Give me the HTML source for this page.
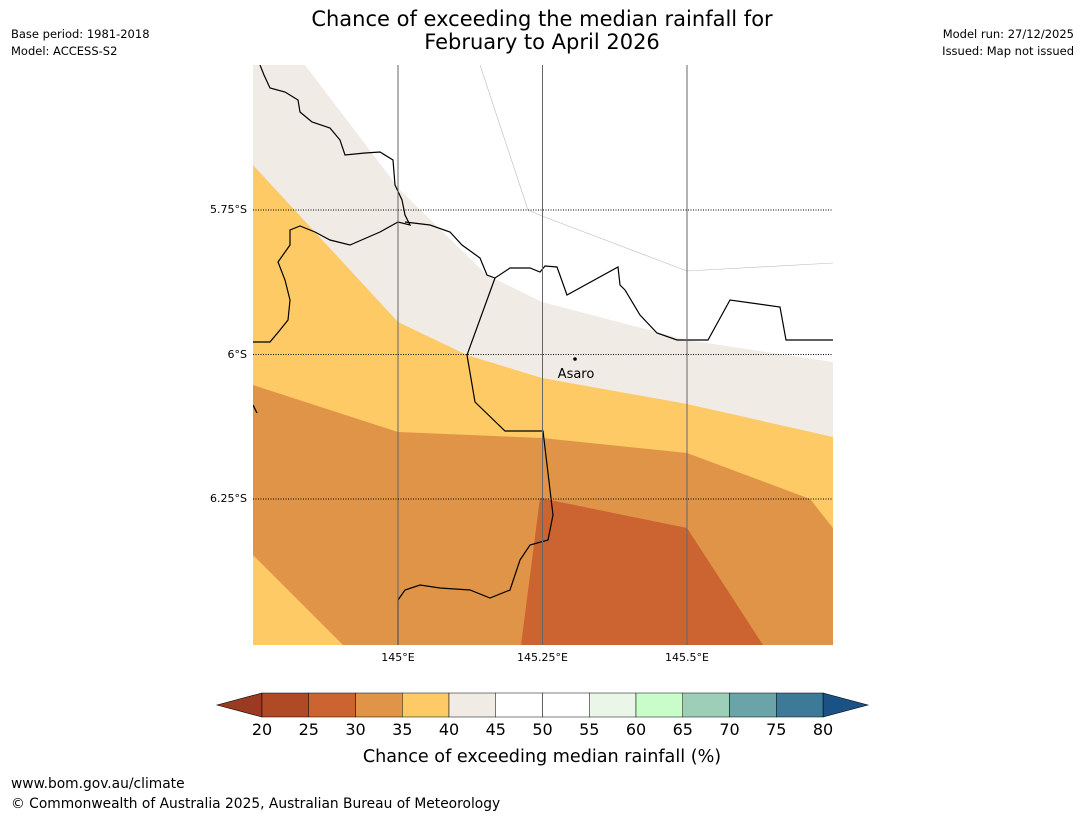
<!DOCTYPE html>
<html><head><meta charset="utf-8"><style>
body{margin:0;background:#fff;font-family:"Liberation Sans","DejaVu Sans",sans-serif;}
svg text{font-family:"DejaVu Sans","Liberation Sans",sans-serif;}
</style></head><body>
<svg width="1085" height="816" viewBox="0 0 1085 816">
<rect width="1085" height="816" fill="#fff"/>
<text x="542" y="26" font-size="21" text-anchor="middle">Chance of exceeding the median rainfall for</text>
<text x="542" y="49" font-size="21" text-anchor="middle">February to April 2026</text>
<text x="11" y="38" font-size="11.5">Base period: 1981-2018</text>
<text x="11" y="55" font-size="11.5">Model: ACCESS-S2</text>
<text x="1074" y="38" font-size="11.5" text-anchor="end">Model run: 27/12/2025</text>
<text x="1074" y="55" font-size="11.5" text-anchor="end">Issued: Map not issued</text>
<defs><clipPath id="mc"><rect x="253" y="65" width="580" height="580"/></clipPath></defs>
<g clip-path="url(#mc)">
<rect x="253" y="65" width="580" height="580" fill="#fff"/>
<polygon fill="#f0ebe5" points="253,65 305,65 400,190 487,275 542,302 687,340 833,362 833,645 253,645"/>
<polygon fill="#fdca66" points="253,165 398,322 467,355 542,378 687,404 833,437 833,645 253,645"/>
<polygon fill="#e09447" points="253,385 398,432 542,438 687,453 810,499 833,528 833,645 253,645"/>
<polygon fill="#cb6431" points="540,498 687,528 763,645 521,645"/>
<polygon fill="#fdca66" points="253,555 343,645 253,645"/>
<polyline fill="none" stroke="#bbb" stroke-width="0.6" points="480,65 528,210 542,216 687,271 833,263"/>
<polyline fill="none" stroke="#000" stroke-width="1.2" points="260,65 264,75 270,88 285,92 298,100 300,112 312,122 330,128 340,140 345,155 365,153 380,152 393,160 395,185 402,200 405,215 410,225 398,222 380,232 350,245 330,240 315,232 300,226 290,230 290,245 278,262 285,280 290,300 288,320 280,330 270,342 253,342"/>
<polyline fill="none" stroke="#000" stroke-width="1.2" points="405,222 430,225 450,232 462,245 480,258 487,275 495,278 510,268 530,268 540,272 545,266 557,267 567,295 618,267 620,285 625,290 640,315 657,333 677,340 708,340 730,300 780,307 786,340 833,340"/>
<polyline fill="none" stroke="#000" stroke-width="1.2" points="495,278 467,355 475,402 505,431 543,431 553,515 548,540 530,545 520,560 510,590 490,598 470,590 440,588 420,585 405,590 398,600 398,645"/>
<polyline fill="none" stroke="#000" stroke-width="1.2" points="253,405 257,413"/>
<g stroke="#666" stroke-width="1">
<line x1="398" y1="65" x2="398" y2="645"/><line x1="542.5" y1="65" x2="542.5" y2="645"/><line x1="687" y1="65" x2="687" y2="645"/>
</g>
<g stroke="#000" stroke-width="1" stroke-dasharray="1,1.5">
<line x1="253" y1="210" x2="833" y2="210"/><line x1="253" y1="354.5" x2="833" y2="354.5"/><line x1="253" y1="499" x2="833" y2="499"/>
</g>
<circle cx="575" cy="359" r="1.8" fill="#000"/>
<text x="576" y="378" font-size="13" text-anchor="middle">Asaro</text>
</g>
<g font-size="11" text-anchor="end">
<text x="247" y="213">5.75°S</text><text x="247" y="358">6°S</text><text x="247" y="502">6.25°S</text>
</g>
<g font-size="11" text-anchor="middle">
<text x="398" y="661">145°E</text><text x="542.5" y="661">145.25°E</text><text x="687" y="661">145.5°E</text>
</g>
<g id="cbar"></g>
<text x="542" y="762" font-size="17.6" text-anchor="middle">Chance of exceeding median rainfall (%)</text>
<text x="11" y="788" font-size="13.8">www.bom.gov.au/climate</text>
<text x="11" y="808" font-size="13.8">© Commonwealth of Australia 2025, Australian Bureau of Meteorology</text>
</svg>
<script>
const levels=[20,25,30,35,40,45,50,55,60,65,70,75,80];
const colors=["#b04a25","#cb6431","#e09447","#fdca66","#f0ebe5","#ffffff","#ffffff","#eaf6e8","#c8fcc8","#9dcfb8","#6aa4a8","#3d7a98"];
const underColor="#9a3a22", overColor="#1a5286";
const NS="http://www.w3.org/2000/svg";
const g=document.getElementById('cbar');
const x0=262,x1=823,y0=693,h=24;
const xs=v=>x0+(v-levels[0])/(levels[levels.length-1]-levels[0])*(x1-x0);
function mk(t,a){const e=document.createElementNS(NS,t);for(const k in a)e.setAttribute(k,a[k]);g.appendChild(e);return e;}
const u=mk('polygon',{points:`217,${y0+h/2} ${x0},${y0} ${x0},${y0+h}`,fill:underColor,stroke:'#000','stroke-width':0.6});


const o=mk('polygon',{points:`868,${y0+h/2} ${x1},${y0} ${x1},${y0+h}`,fill:overColor,stroke:'#000','stroke-width':0.6});


for(let i=0;i<colors.length;i++){
 const r=mk('rect',{x:xs(levels[i]),y:y0,width:xs(levels[i+1])-xs(levels[i]),height:h,fill:colors[i],stroke:'#000','stroke-width':0.5});
 
 
}
levels.forEach(v=>{
 const t=mk('text',{x:xs(v),y:735,'font-size':16,'text-anchor':'middle'});
 t.textContent=v;
 
 
});
</script>
</body></html>
